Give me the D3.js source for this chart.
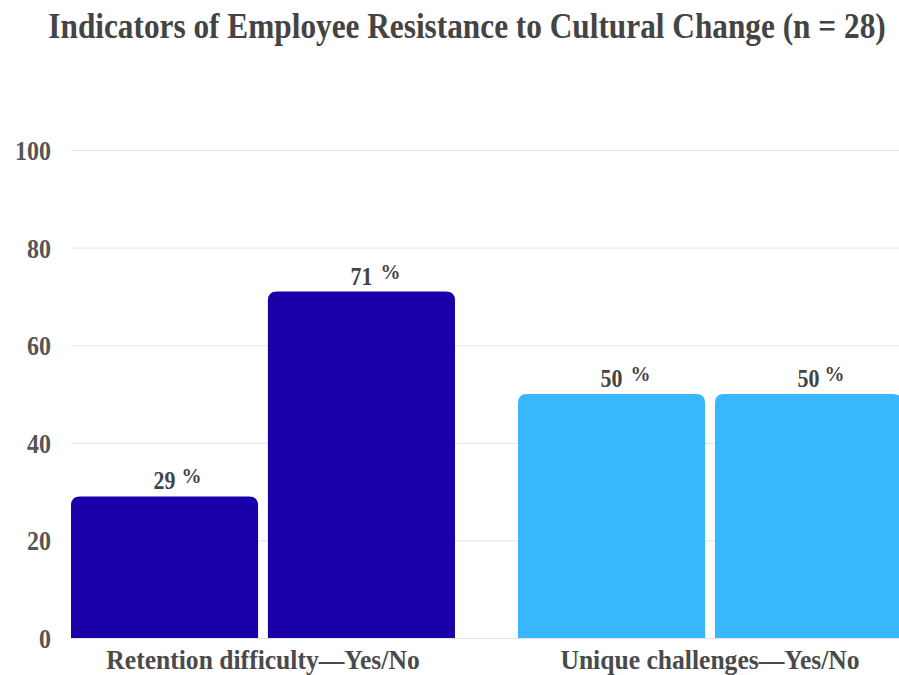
<!DOCTYPE html>
<html>
<head>
<meta charset="utf-8">
<script src="https://cdn.jsdelivr.net/npm/d3@7"></script>
<style>
  body { margin: 0; background: #fff; }
  svg { display: block; font-family: "Liberation Serif", "DejaVu Serif", serif; }
</style>
</head>
<body>
<div id="chart"></div>
<script>
// data
let categories = ["Retention difficulty\u2014Yes/No", "Unique challenges\u2014Yes/No"];
let answers = ["Yes", "No"];
let retention = [29, 71];
let unique = [50, 50];
let yTicks = [0, 20, 40, 60, 80, 100];
let title = "Indicators of Employee Resistance to Cultural Change (n = 28)";

let series = [retention, unique];
let colores = ["#1a00a9", "#38b6fe"];
// space between the number and its % sign, per bar
let pctGap = [[6, 8], [8, 5]];

let width = 899, height = 675;
let margin = {"top": 150, "bottom": 37, "left": 71, "right": -3};

let svg = d3.select("#chart").append("svg")
    .attr("width", width).attr("height", height);

let y = d3.scaleLinear()
    .domain([0, 100])
    .range([height - margin.bottom, margin.top]);

let x0 = d3.scaleBand()
    .domain(categories)
    .range([margin.left, width - margin.right])
    .paddingInner(0.141);

let x1 = d3.scaleBand()
    .domain(answers)
    .range([0, x0.bandwidth()])
    .paddingInner(0.05);

// gridlines + y labels
let yAxis = svg.append("g")
    .attr("transform", "translate(" + margin.left + ",0)")
    .call(d3.axisLeft(y).tickValues(yTicks).tickSize(-(width - margin.left)).tickPadding(20));
yAxis.select(".domain").remove();
yAxis.selectAll(".tick line").attr("stroke", "#e4e4e4").attr("stroke-width", 1);
yAxis.selectAll(".tick text")
    .attr("fill", "#555")
    .attr("font-size", "24px")
    .attr("font-weight", "bold")
    .attr("font-family", "Liberation Serif, serif")
    .attr("dy", "0.36em")
    .attr("transform", "scale(1,1.1)");

// rounded top bars
function barPath(x, yTop, w, h, r) {
    r = Math.min(r, h, w / 2);
    return "M" + x + "," + (yTop + h)
        + "V" + (yTop + r)
        + "Q" + x + "," + yTop + " " + (x + r) + "," + yTop
        + "H" + (x + w - r)
        + "Q" + (x + w) + "," + yTop + " " + (x + w) + "," + (yTop + r)
        + "V" + (yTop + h) + "Z";
}

let rows = [];
categories.forEach((c, i) => {
    answers.forEach((a, j) => {
        rows.push({"cat": c, "ans": a, "value": series[i][j], "color": colores[i], "gap": pctGap[i][j]});
    });
});

let grupos = svg.append("g");

grupos.selectAll("path.bar")
    .data(rows)
    .enter()
    .append("path")
    .attr("class", "bar")
    .attr("d", d => barPath(x0(d.cat) + x1(d.ans), y(d.value), x1.bandwidth(), y(0) - y(d.value), 9))
    .attr("fill", d => d.color);

// value labels: number centred on bar, % tacked on after it
let etiquetas = grupos.selectAll("g.val")
    .data(rows)
    .enter()
    .append("g")
    .attr("class", "val")
    .attr("transform", d => "translate(" + (x0(d.cat) + x1(d.ans) + x1.bandwidth() / 2) + "," + (y(d.value) - 7) + ")");

etiquetas.append("text")
    .attr("class", "num")
    .attr("text-anchor", "middle")
    .attr("fill", "#444")
    .attr("font-weight", "bold")
    .attr("font-size", "22px")
    .attr("transform", "scale(1,1.18)")
    .text(d => d.value);

etiquetas.append("text")
    .attr("x", function(d) {
        let w = d3.select(this.parentNode).select(".num").node().getComputedTextLength();
        return w / 2 + d.gap;
    })
    .attr("y", -6)
    .attr("fill", "#444")
    .attr("font-weight", "bold")
    .attr("font-size", "20px")
    .text("%");

// category labels
svg.append("g").selectAll("text")
    .data(categories)
    .enter()
    .append("text")
    .attr("transform", d => "translate(" + (x0(d) + x0.bandwidth() / 2) + "," + (height - 6) + ") scale(1,1.08)")
    .attr("text-anchor", "middle")
    .attr("fill", "#4a4a4a")
    .attr("font-size", "25.6px")
    .attr("font-weight", "bold")
    .text(d => d);

// title
svg.append("text")
    .attr("transform", "translate(467,38) scale(1,1.12)")
    .attr("text-anchor", "middle")
    .attr("fill", "#444")
    .attr("font-size", "31.3px")
    .attr("font-weight", "bold")
    .text(title);
</script>
</body>
</html>
